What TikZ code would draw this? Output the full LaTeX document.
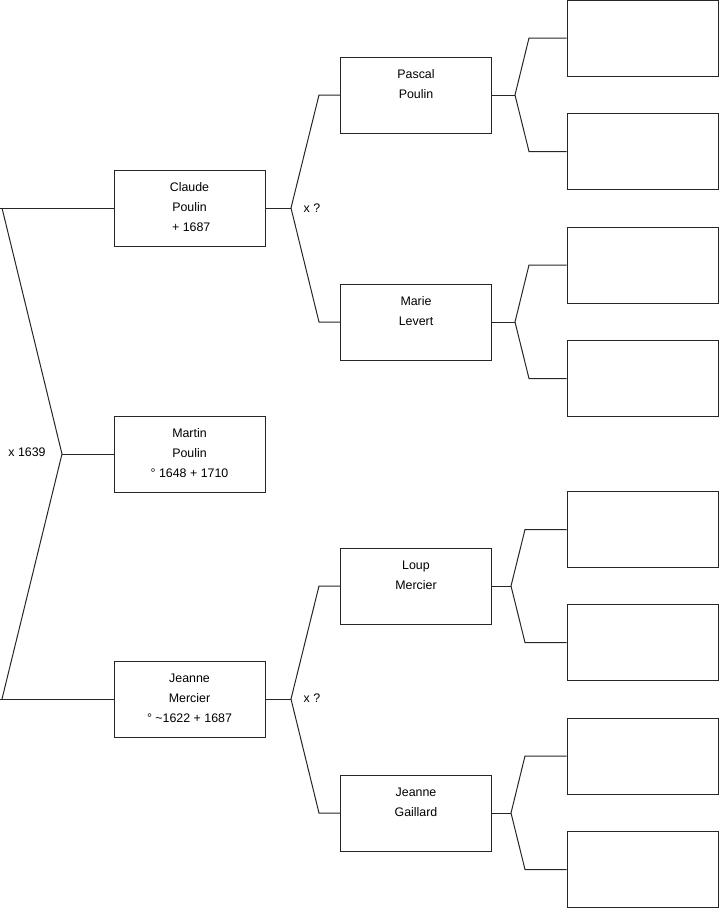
\documentclass[tikz,border=0pt]{standalone}
\usepackage{fontspec}
\setmainfont{Liberation Sans}
\begin{document}
\begin{tikzpicture}[x=1pt,y=-1pt,
  person/.style={draw=black!85,line width=1pt,rectangle,minimum width=151pt,minimum height=76pt,inner sep=0pt},
  txt/.style={anchor=north,inner sep=0pt,align=center,font=\fontsize{12.4}{20}\selectfont},
  lab/.style={inner sep=0pt,font=\fontsize{12.4}{14}\selectfont},
  link/.style={draw=black!85,line width=1pt}]
\useasboundingbox (0,0) rectangle (719,908);
% generation 1
\node[person] (claude) at (189.5,208) {};
\node[person] (martin) at (189.5,454) {};
\node[person] (jeanne) at (189.5,699) {};
\node[txt] at ([yshift=-13pt]claude.north) {Claude\\Poulin\\\ + 1687};
\node[txt] at ([yshift=-13pt]martin.north) {Martin\\Poulin\\° 1648 + 1710};
\node[txt] at ([yshift=-13pt]jeanne.north) {Jeanne\\Mercier\\° \textasciitilde1622 + 1687};
% generation 2
\node[person] (pascal) at (416,95) {};
\node[person] (marie) at (416,322) {};
\node[person] (loup) at (416,586) {};
\node[person] (gaillard) at (416,813) {};
\node[txt] at ([yshift=-13pt]pascal.north) {Pascal\\Poulin};
\node[txt] at ([yshift=-13pt]marie.north) {Marie\\Levert};
\node[txt] at ([yshift=-13pt]loup.north) {Loup\\Mercier};
\node[txt] at ([yshift=-13pt]gaillard.north) {Jeanne\\Gaillard};
% generation 3
\node[person] (p1) at (642.5,38) {};
\node[person] (p2) at (642.5,151.5) {};
\node[person] (m1) at (642.5,265) {};
\node[person] (m2) at (642.5,378.5) {};
\node[person] (l1) at (642.5,529.5) {};
\node[person] (l2) at (642.5,642.5) {};
\node[person] (g1) at (642.5,756) {};
\node[person] (g2) at (642.5,869.5) {};
% labels
\node[lab] (x1639) at (27,452) {x 1639};
\node[lab] (xq1) at (312,208) {x ?};
\node[lab] (xq2) at (312,698) {x ?};
% left bracket
\coordinate (lt) at (2,208);
\coordinate (lv) at (62,454);
\coordinate (lb) at (2,699);
\draw[link] (0,208) -- (claude.west);
\draw[link] (lt) -- (lv) -- (lb);
\draw[link] (lv) -- (martin.west);
\draw[link] (0,699) -- (jeanne.west);
% claude bracket
\coordinate (cv) at (291,208);
\coordinate (ct) at (319,95);
\coordinate (cb) at (319,322);
\draw[link] (claude.east) -- (cv);
\draw[link] (pascal.west) -- (ct) -- (cv) -- (cb) -- (marie.west);
% jeanne bracket
\coordinate (jv) at (291,699);
\coordinate (jt) at (319,586);
\coordinate (jb) at (319,813);
\draw[link] (jeanne.east) -- (jv);
\draw[link] (loup.west) -- (jt) -- (jv) -- (jb) -- (gaillard.west);
% pascal bracket
\coordinate (pv) at (515,95);
\coordinate (pt) at (529,38);
\coordinate (pb) at (529,151.5);
\draw[link] (pascal.east) -- (pv);
\draw[link] (p1.west) -- (pt) -- (pv) -- (pb) -- (p2.west);
% marie bracket
\coordinate (mv) at (515,322);
\coordinate (mt) at (529,265);
\coordinate (mb) at (529,378.5);
\draw[link] (marie.east) -- (mv);
\draw[link] (m1.west) -- (mt) -- (mv) -- (mb) -- (m2.west);
% loup bracket
\coordinate (lov) at (511,586);
\coordinate (lot) at (525,529.5);
\coordinate (lob) at (525,642.5);
\draw[link] (loup.east) -- (lov);
\draw[link] (l1.west) -- (lot) -- (lov) -- (lob) -- (l2.west);
% gaillard bracket
\coordinate (gv) at (511,813);
\coordinate (gt) at (525,756);
\coordinate (gb) at (525,869.5);
\draw[link] (gaillard.east) -- (gv);
\draw[link] (g1.west) -- (gt) -- (gv) -- (gb) -- (g2.west);
\end{tikzpicture}
\end{document}
